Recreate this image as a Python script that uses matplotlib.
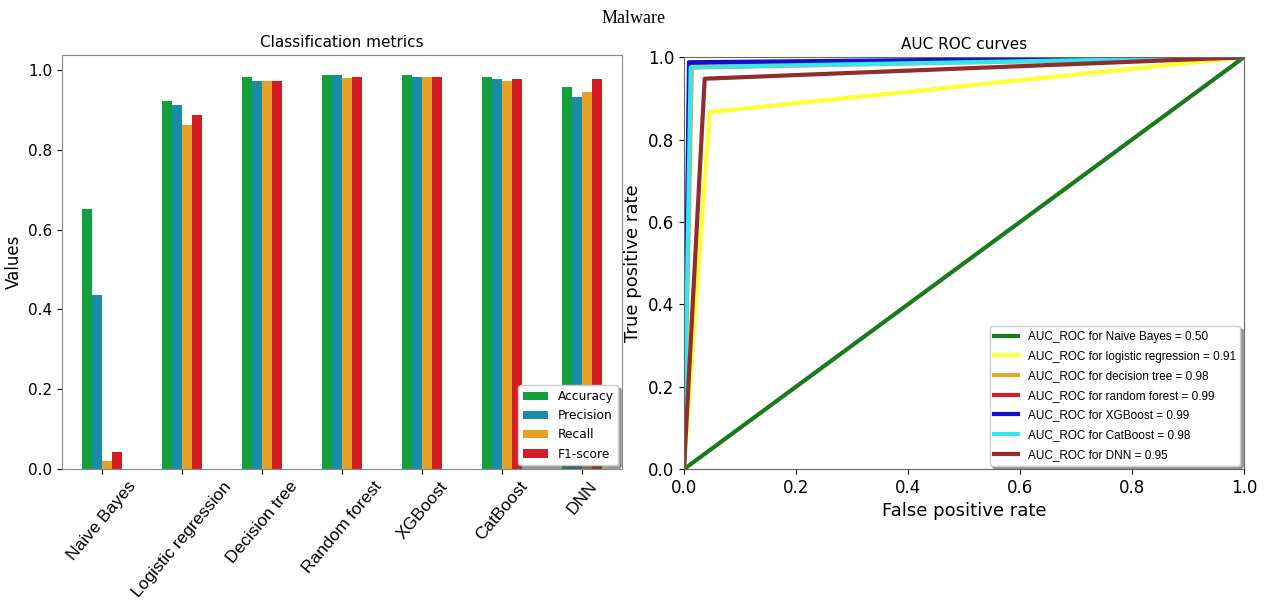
import numpy as np
import matplotlib
matplotlib.use('Agg')
import matplotlib.pyplot as plt

# Bar chart data
models = ['Naive Bayes', 'Logistic regression', 'Decision tree', 'Random forest',
          'XGBoost', 'CatBoost', 'DNN']
accuracy = [0.652, 0.923, 0.982, 0.988, 0.988, 0.983, 0.956]
precision = [0.436, 0.911, 0.973, 0.988, 0.982, 0.977, 0.931]
recall = [0.020, 0.862, 0.973, 0.979, 0.982, 0.973, 0.944]
f1_score = [0.043, 0.886, 0.973, 0.983, 0.982, 0.976, 0.976]

metric_names = ['Accuracy', 'Precision', 'Recall', 'F1-score']
metric_colors = ['#11a03c', '#1a8ca6', '#e6a024', '#d21c26']

# ROC data: (fpr, tpr) of the single operating point for each model
roc_labels = ['Naive Bayes', 'logistic regression', 'decision tree', 'random forest',
              'XGBoost', 'CatBoost', 'DNN']
roc_auc = [0.50, 0.91, 0.98, 0.99, 0.99, 0.98, 0.95]
roc_fpr = [0.50, 0.046, 0.014, 0.010, 0.009, 0.012, 0.037]
roc_tpr = [0.50, 0.867, 0.975, 0.986, 0.988, 0.976, 0.948]
roc_colors = ['#1b7a1b', '#ffff33', '#e8a62a', '#d42020', '#1010c8', '#33e6f0', '#902c2c']

fig = plt.figure(figsize=(12.68, 6.03), dpi=100)
fig.text(0.5, 0.97, 'Malware', ha='center', va='center', fontsize=13,
         family='Liberation Serif')

# ---- Classification metrics
ax1 = fig.add_axes([0.049, 0.222, 0.4416, 0.6866])
x = np.arange(len(models))
w = 0.125
series = [accuracy, precision, recall, f1_score]
for i, (vals, name, col) in enumerate(zip(series, metric_names, metric_colors)):
    ax1.bar(x + (i - 1.5) * w, vals, width=w, color=col, label=name)
ax1.set_xticks(x)
ax1.set_xticklabels(models, rotation=50, fontsize=12.5, family='Liberation Sans')
ax1.set_xlim(-0.5, 6.5)
ax1.set_ylim(0, 1.037)
ax1.set_yticks([0.0, 0.2, 0.4, 0.6, 0.8, 1.0])
ax1.tick_params(axis='y', labelsize=11)
ax1.set_ylabel('Values', fontsize=12)
ax1.set_title('Classification metrics', fontsize=11)
for s in ax1.spines.values():
    s.set_color('#888888')
ax1.legend(loc='lower right', fontsize=8.8, shadow=True,
           borderaxespad=0.3, handlelength=2.0)

# ---- ROC curves
ax2 = fig.add_axes([0.5394, 0.222, 0.4416, 0.683])
ax2.plot([0, 1], [0, 1], 'k--', lw=1)
for lab, auc, fp, tp, col in zip(roc_labels, roc_auc, roc_fpr, roc_tpr, roc_colors):
    ax2.plot([0, fp, 1], [0, tp, 1], color=col, lw=3,
             label='AUC_ROC for %s = %.2f' % (lab, auc))
ax2.set_xlim(0, 1)
ax2.set_ylim(0, 1)
ax2.set_xticks([0.0, 0.2, 0.4, 0.6, 0.8, 1.0])
ax2.set_yticks([0.0, 0.2, 0.4, 0.6, 0.8, 1.0])
ax2.tick_params(labelsize=12)
ax2.set_xlabel('False positive rate', fontsize=13)
ax2.set_ylabel('True positive rate', fontsize=13)
ax2.set_title('AUC ROC curves', fontsize=11)
for s in ax2.spines.values():
    s.set_color('#666666')
ax2.legend(loc='lower right', prop={'family': 'Liberation Sans', 'size': 8.5},
           shadow=True, borderaxespad=0.3, labelspacing=0.65)

fig.savefig('out.png', dpi=100)
